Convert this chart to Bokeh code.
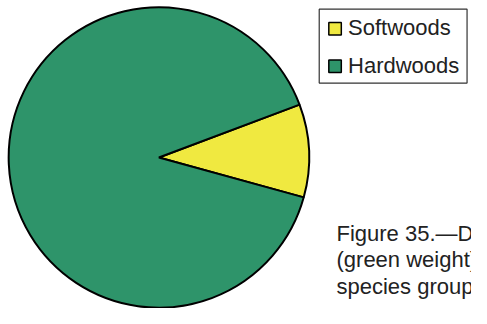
import math
from bokeh.plotting import figure
from bokeh.models import ColumnDataSource, Range1d
from bokeh.core.properties import value
from bokeh.embed import file_html
from bokeh.resources import INLINE

# ---- data ----
species = ["Softwoods", "Hardwoods"]
shares = [10.0, 90.0]          # percent of total
colors = ["#F0E940", "#2E946A"]
caption_lines = [
    "Figure 35.\u2014Distribution of aboveground",
    "(green weight) tree biomass by major",
    "species group",
]

# ---- layout constants (pixels, image coords: y down) ----
W, H = 471, 308
S = 0.96                       # overall scale to fit the window
TXT_SHIFT = 7.5                # baseline correction for svg text
def X(px):
    return px * S
def Y(py):
    return H - py * S

CX, CY, R = X(165), Y(163.5), 156.5 * S
START = math.radians(-15.4)
FONT = "Liberation Sans"
FS = "22px"

p = figure(width=W, height=H, output_backend="svg", toolbar_location=None,
           x_range=Range1d(0, W), y_range=Range1d(0, H), min_border=0)
p.axis.visible = False
p.grid.visible = False
p.outline_line_color = None
p.background_fill_color = "white"
p.border_fill_color = "white"

total = sum(shares)
starts, ends = [], []
a = START
for s in shares:
    starts.append(a)
    a += 2 * math.pi * s / total
    ends.append(a)

src = ColumnDataSource(dict(species=species, share=shares, color=colors,
                            start=starts, end=ends))
p.wedge(x=CX, y=CY, radius=R, start_angle="start", end_angle="end",
        direction="anticlock", fill_color="color", line_color="black",
        line_width=2, source=src)

# ---- legend (manual) ----
p.quad(left=[X(332)], right=[X(486)], top=[Y(9)], bottom=[Y(86)],
       fill_color="white", line_color="#333333", line_width=1.2)
sq_y = [Y(29.5 + 39 * i) for i in range(len(species))]
p.scatter(x=[X(348.5)] * len(species), y=sq_y, marker="square", size=12.5,
          fill_color=colors, line_color="black", line_width=1.5)
p.text(x=[X(362)] * len(species),
       y=[Y(36 + 39 * i) + TXT_SHIFT for i in range(len(species))],
       text=species, text_font=value(FONT), text_font_size=FS,
       text_color="#222222", text_baseline="alphabetic", text_align="left")

# ---- caption ----
p.text(x=[X(350)] * len(caption_lines),
       y=[Y(250 + 28 * i) + TXT_SHIFT for i in range(len(caption_lines))],
       text=caption_lines, text_font=value(FONT), text_font_size=FS,
       text_color="#222222", text_baseline="alphabetic", text_align="left")

open("out.html", "w").write(file_html(p, INLINE))
